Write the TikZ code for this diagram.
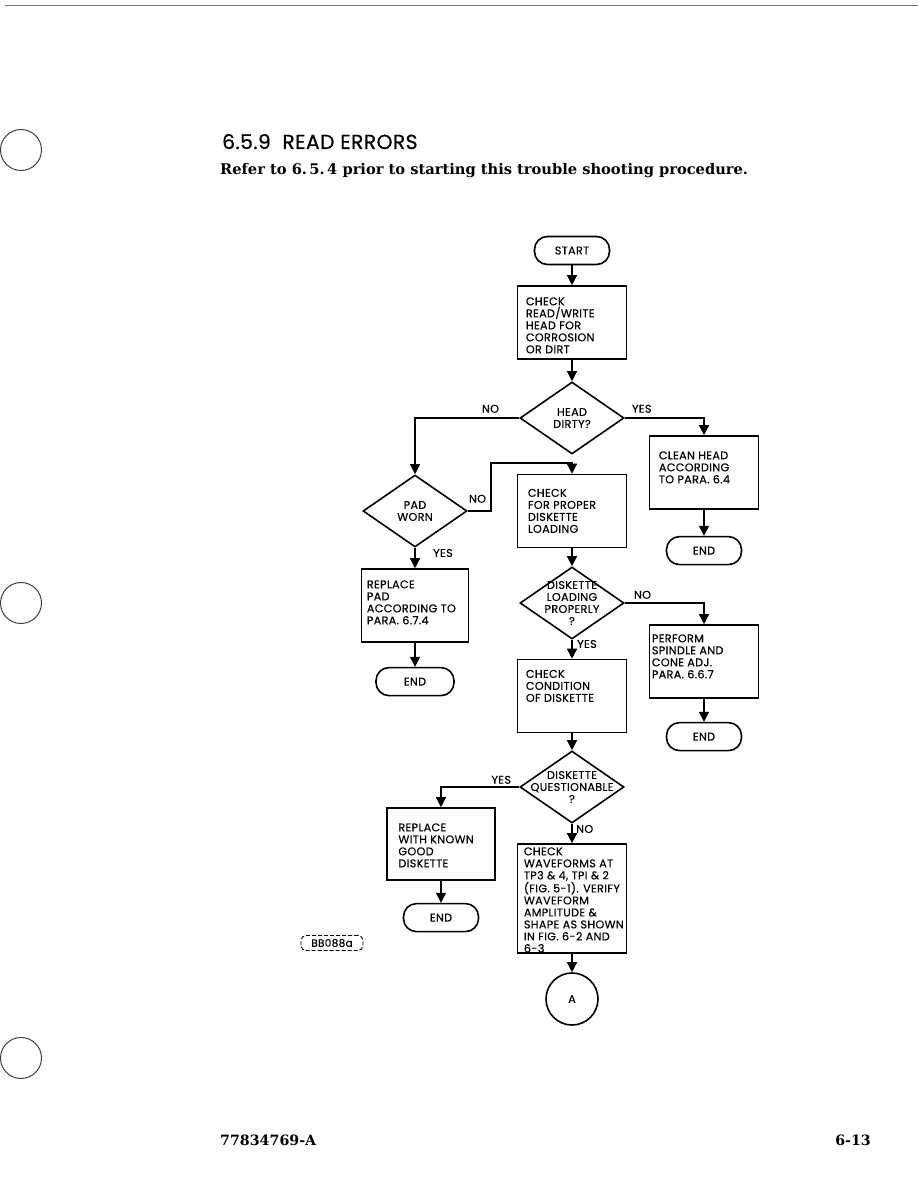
\documentclass[tikz,border=0pt]{standalone}
\usepackage{fontspec}
\setmainfont{DejaVu Serif}
\newfontfamily\flowfont[LetterSpace=3, FakeBold=0.3]{Poppins}
\newfontfamily\headfont[LetterSpace=2, FakeBold=0.5]{Poppins}
\usetikzlibrary{positioning, arrows.meta, shapes.geometric}

\begin{document}
\begin{tikzpicture}[x=1pt, y=-1pt,
  chart/.style={font=\flowfont\fontsize{11.2}{12}\selectfont},
  term/.style={chart, draw, line width=1.6pt, rounded corners=13pt,
               minimum width=75pt, minimum height=28pt, inner sep=0pt},
  procbox/.style={draw, line width=1.6pt, minimum width=109pt,
                  minimum height=73pt, inner sep=0pt},
  boxtext/.style={chart, anchor=north west, align=left, inner sep=0pt},
  decision/.style={draw, diamond, line width=1.6pt, minimum width=104pt,
                   minimum height=72pt, inner sep=0pt},
  dtext/.style={chart, align=center, inner sep=0pt},
  answer/.style={chart, inner sep=0pt},
  flow/.style={line width=1.3pt, -{Triangle[width=10pt,length=10pt]}},
  hole/.style={draw=black!75, line width=1pt}
]
\useasboundingbox (0,0) rectangle (918,1188);

% page furniture
\draw[black!55, line width=0.8pt] (5,5) -- (918,5);
\draw[hole] (21,150) circle (20.5pt);
\draw[hole] (21,603) circle (20.5pt);
\draw[hole] (21,1058) circle (20.5pt);

\node[anchor=base west, inner sep=0pt, font=\headfont\fontsize{20.3}{24}\selectfont]
  (title) at (222,149) {6.5.9\ \ READ ERRORS};
\node[anchor=base west, inner sep=0pt, font=\bfseries\fontsize{14.65}{18}\selectfont]
  (intro) at (220,174) {Refer to 6.\,5.\,4 prior to starting this trouble shooting procedure.};

% main column
\node[term] (start) at (572,250.5) {START};
\node[procbox, label={[boxtext, xshift=9pt, yshift=-12pt]north west:{CHECK\\READ/WRITE\\HEAD FOR\\CORROSION\\OR DIRT}}]
  (chkhead) at (572,322.5) {};
\node[decision, label={[dtext]center:{HEAD\\DIRTY?}}] (dirty) at (572,418) {};
\node[procbox, label={[boxtext, xshift=11pt, yshift=-15pt]north west:{CHECK\\FOR PROPER\\DISKETTE\\LOADING}}]
  (chkload) at (572,511) {};
\node[decision, label={[dtext]center:{DISKETTE\\LOADING\\PROPERLY\\?}}] (loading) at (572,603) {};
\node[procbox, label={[boxtext, xshift=9pt, yshift=-11pt]north west:{CHECK\\CONDITION\\OF DISKETTE}}]
  (chkcond) at (572,696) {};
\node[decision, label={[dtext]center:{DISKETTE\\QUESTIONABLE\\?}}] (quest) at (572,787) {};
\node[procbox, minimum height=109pt, label={[boxtext, xshift=7pt, yshift=-4pt]north west:{CHECK\\WAVEFORMS AT\\TP3 \& 4, TPI \& 2\\(FIG. 5-1). VERIFY\\WAVEFORM\\AMPLITUDE \&\\SHAPE AS SHOWN\\IN FIG. 6-2 AND\\6-3}}]
  (waves) at (572,898.5) {};
\node[draw, circle, line width=1.6pt, minimum size=52pt, inner sep=0pt, chart] (conA) at (572,999) {A};

% right column
\node[procbox, label={[boxtext, xshift=10pt, yshift=-16pt]north west:{CLEAN HEAD\\ACCORDING\\TO PARA. 6.4}}]
  (clean) at (704,472.5) {};
\node[term, below=26pt of clean] (cleanEnd) {END};
\node[procbox, label={[boxtext, xshift=3pt, yshift=-10pt]north west:{PERFORM\\SPINDLE AND\\CONE ADJ.\\PARA. 6.6.7}}]
  (perform) at (704,661.5) {};
\node[term, below=23pt of perform] (perfEnd) {END};

% left side
\node[decision, label={[dtext]center:{PAD\\WORN}}] (pad) at (415,511) {};
\node[procbox, minimum width=107pt, label={[boxtext, xshift=6pt, yshift=-12pt]north west:{REPLACE\\PAD\\ACCORDING TO\\PARA. 6.7.4}}]
  (padbox) at (415,605.5) {};
\node[term, minimum width=78pt, below=24pt of padbox] (padEnd) {END};
\node[procbox, minimum width=108pt, minimum height=72pt, label={[boxtext, xshift=12pt, yshift=-16pt]north west:{REPLACE\\WITH KNOWN\\GOOD\\DISKETTE}}]
  (repl) at (441,844) {};
\node[term, below=22pt of repl] (replEnd) {END};

\node[draw, dash pattern=on 4pt off 2pt, rounded corners=5pt, line width=0.9pt,
      minimum width=62pt, minimum height=15pt, inner sep=0pt,
      font=\flowfont\fontsize{10.5}{11}\selectfont] (figid) at (332,943) {BB088a};

% answers
\node[answer, above left=5pt and 20pt of dirty.west] (dirtyNo) {NO};
\node[answer, above right=5pt and 7pt of dirty.east] (dirtyYes) {YES};
\node[answer, above right=8pt and 1pt of pad.east] (padNo) {NO};
\node[answer, below right=1pt and 18pt of pad.south] (padYes) {YES};
\node[answer, above right=4pt and 9pt of loading.east] (loadNo) {NO};
\node[answer, below right=0pt and 5pt of loading.south] (loadYes) {YES};
\node[answer, above left=3pt and 8pt of quest.west] (questYes) {YES};
\node[answer, below right=1pt and 4pt of quest.south] (questNo) {NO};

% connectors
\coordinate (padturn) at (491,463);
\draw[flow] (start) -- (chkhead);
\draw[flow] (chkhead) -- (dirty);
\draw[flow] (dirty.west) -| (pad.north);
\draw[flow] (dirty.east) -| (clean.north);
\draw[flow] (clean) -- (cleanEnd);
\draw[flow] (pad.east) -| (padturn) -| (chkload.north);
\draw[flow] (pad.south) -- (padbox.north);
\draw[flow] (padbox) -- (padEnd);
\draw[flow] (chkload) -- (loading);
\draw[flow] (loading.east) -| (perform.north);
\draw[flow] (perform) -- (perfEnd);
\draw[flow] (loading.south) -- (chkcond.north);
\draw[flow] (chkcond) -- (quest);
\draw[flow] (quest.west) -| (repl.north);
\draw[flow] (repl) -- (replEnd);
\draw[flow] (quest.south) -- (waves.north);
\draw[flow] (waves) -- (conA);

\node[anchor=base west, inner sep=0pt, font=\bfseries\fontsize{14.2}{18}\selectfont]
  (docno) at (220,1145) {77834769-A};
\node[anchor=base east, inner sep=0pt, font=\bfseries\fontsize{14.2}{18}\selectfont]
  (pageno) at (871,1145) {6-13};
\end{tikzpicture}
\end{document}
